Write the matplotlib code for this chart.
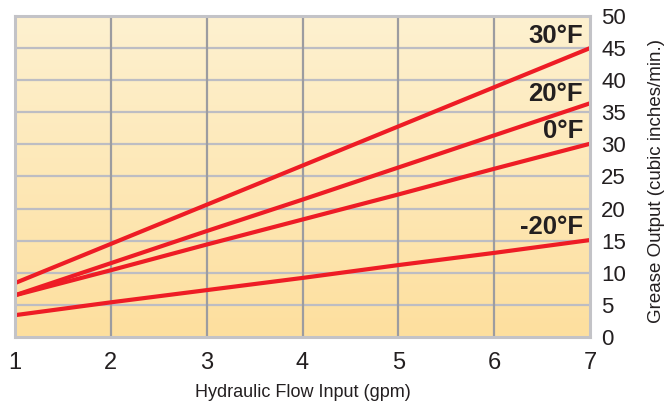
# Grease output vs hydraulic flow input at different temperatures
import numpy as np
import matplotlib.pyplot as plt

flow = [1, 2, 3, 4, 5, 6, 7]
temps = ['30°F', '20°F', '0°F', '-20°F']
out_30 = [8.4, 14.5, 20.6, 26.7, 32.8, 38.9, 45.0]
out_20 = [6.5, 11.5, 16.5, 21.4, 26.4, 31.4, 36.4]
out_0 = [6.5, 10.4, 14.4, 18.3, 22.2, 26.2, 30.1]
out_m20 = [3.4, 5.4, 7.3, 9.2, 11.2, 13.1, 15.1]
y_ticks = [0, 5, 10, 15, 20, 25, 30, 35, 40, 45, 50]

narrow = dict(family=['Liberation Sans', 'DejaVu Sans'], stretch='condensed')

fig = plt.figure(figsize=(6.68, 4.07), dpi=100)
ax = fig.add_axes([0.0225, 0.172, 0.8607, 0.7887])

# background gradient, light cream at top to warmer yellow at bottom
grad = np.linspace(0, 1, 256).reshape(-1, 1)
top = np.array([253, 241, 208]) / 255
bot = np.array([254, 223, 158]) / 255
img = top + (bot - top) * grad[:, :, None]
ax.imshow(img, extent=[1, 7, 0, 50], aspect='auto', zorder=0)

ax.set_xlim(1, 7)
ax.set_ylim(0, 50)

for v in y_ticks[1:-1]:
    ax.axhline(v, color='#bdbdc3', lw=1.6, zorder=1)
for v in flow[1:-1]:
    ax.axvline(v, color='#9c9ca0', lw=1.6, zorder=2)

for s in [out_30, out_20, out_0, out_m20]:
    ax.plot(flow, s, color='#ee1c25', lw=3, zorder=3, solid_capstyle='butt')

offs = [12, 9, 13, 13]
for t, s, o in zip(temps, [out_30, out_20, out_0, out_m20], offs):
    ax.annotate(t, xy=(7, s[-1]), xytext=(-7, o), textcoords='offset pixels',
                ha='right', va='center', fontsize=18.5, fontweight='bold',
                family=['Liberation Sans', 'DejaVu Sans'], stretch='normal',
                color='#231f20', zorder=4)

for sp in ax.spines.values():
    sp.set_color('#c3c3c7')
    sp.set_linewidth(2.2)
    sp.set_zorder(5)

ax.set_xticks(flow)
ax.set_xticklabels([str(f) for f in flow], fontsize=17, color='#231f20', **narrow)
ax.set_yticks(y_ticks)
ax.set_yticklabels([str(v) for v in y_ticks], fontsize=16, color='#231f20', **narrow)
ax.yaxis.tick_right()
ax.tick_params(axis='x', length=0, pad=11)
ax.tick_params(axis='y', length=0, pad=8)

ax.set_xlabel('Hydraulic Flow Input (gpm)', fontsize=13, color='#231f20',
              labelpad=7, **narrow)
ax.yaxis.set_label_position('right')
ax.set_ylabel('Grease Output (cubic inches/min.)', fontsize=13.5, color='#231f20',
              **narrow)
ax.yaxis.label.set_va('center')
ax.yaxis.set_label_coords(1.115, 0.486)

fig.savefig('out.png', dpi=100)
